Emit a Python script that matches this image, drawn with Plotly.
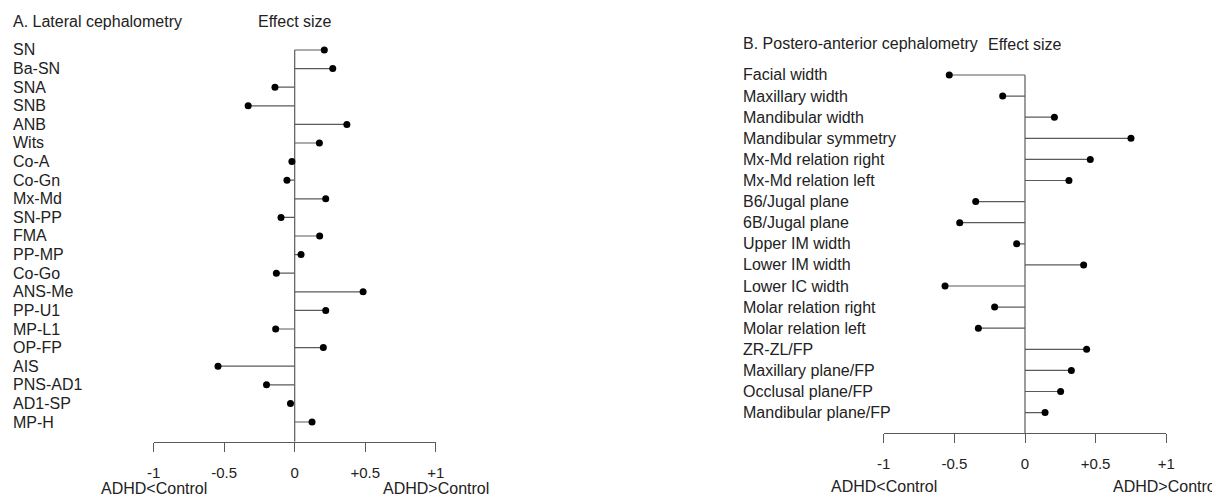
import plotly.graph_objects as go

W, H = 1220, 496
OFF = 8  # page body margin offset

# ---------------- data ----------------
lat_labels = ["SN", "Ba-SN", "SNA", "SNB", "ANB", "Wits", "Co-A", "Co-Gn", "Mx-Md", "SN-PP",
              "FMA", "PP-MP", "Co-Go", "ANS-Me", "PP-U1", "MP-L1", "OP-FP", "AIS", "PNS-AD1",
              "AD1-SP", "MP-H"]
lat_values = [0.21, 0.27, -0.14, -0.33, 0.37, 0.175, -0.02, -0.055, 0.22, -0.097,
              0.177, 0.045, -0.13, 0.485, 0.22, -0.135, 0.203, -0.544, -0.20,
              -0.03, 0.123]

pa_labels = ["Facial width", "Maxillary width", "Mandibular width", "Mandibular symmetry",
             "Mx-Md relation right", "Mx-Md relation left", "B6/Jugal plane", "6B/Jugal plane",
             "Upper IM width", "Lower IM width", "Lower IC width", "Molar relation right",
             "Molar relation left", "ZR-ZL/FP", "Maxillary plane/FP", "Occlusal plane/FP",
             "Mandibular plane/FP"]
pa_values = [-0.536, -0.158, 0.208, 0.75, 0.462, 0.311, -0.349, -0.462,
             -0.059, 0.415, -0.566, -0.215, -0.33, 0.436, 0.328, 0.252, 0.142]

tick_vals = [-1, -0.5, 0, 0.5, 1]
tick_text = ["-1", "-0.5", "0", "+0.5", "+1"]
panel_titles = ["A. Lateral cephalometry", "B. Postero-anterior cephalometry"]
axis_title = "Effect size"
side_labels = ["ADHD<Control", "ADHD>Control"]

# ---------------- style ----------------
FONT = "Liberation Sans, Arial, sans-serif"
TXT = "#222222"
LINE = "#5a5a5a"
FS = 16
TFS = 15


def px_x(p):
    return (p - OFF) / W


def px_y(p):
    return 1 - (p - OFF) / H


fig = go.Figure()

panels = [
    dict(labels=lat_labels, values=lat_values, xa="x", ya="y",
         xdom=(153.7, 435.7), row0=50.0, step=18.6, axis_px=441.7, top_px=30,
         label_px=11, title_px=(11, 21), es_y=22, side_y=488),
    dict(labels=pa_labels, values=pa_values, xa="x2", ya="y2",
         xdom=(883.7, 1166.3), row0=75.0, step=21.1, axis_px=433.3, top_px=55,
         label_px=741, title_px=(741, 43), es_y=44, side_y=486),
]

annotations = []
for k, p in enumerate(panels):
    n = len(p["labels"])
    idx = list(range(n))
    bottom = (p["axis_px"] - p["row0"]) / p["step"]
    top = (p["top_px"] - p["row0"]) / p["step"]

    # stems
    sx, sy = [], []
    for i, v in zip(idx, p["values"]):
        sx += [0, v, None]
        sy += [i, i, None]
    fig.add_trace(go.Scatter(x=sx, y=sy, mode="lines", line=dict(color=LINE, width=1.2),
                             xaxis=p["xa"], yaxis=p["ya"], hoverinfo="skip", showlegend=False))
    # zero reference line
    fig.add_trace(go.Scatter(x=[0, 0], y=[0, bottom], mode="lines",
                             line=dict(color=LINE, width=1.2),
                             xaxis=p["xa"], yaxis=p["ya"], hoverinfo="skip", showlegend=False))
    # dots
    fig.add_trace(go.Scatter(x=p["values"], y=idx, mode="markers",
                             marker=dict(color="black", size=7),
                             text=p["labels"], xaxis=p["xa"], yaxis=p["ya"], showlegend=False))

    suffix = "" if k == 0 else "2"
    fig.update_layout(**{
        "xaxis" + suffix: dict(
            domain=[px_x(p["xdom"][0]), px_x(p["xdom"][1])], range=[-1, 1],
            anchor=p["ya"], tickvals=tick_vals, ticktext=tick_text,
            ticks="outside", ticklen=9, tickwidth=1.2, tickcolor=LINE,
            showline=True, linecolor=LINE, linewidth=1.2, automargin=False,
            showgrid=False, zeroline=False, fixedrange=True,
            tickfont=dict(family=FONT, size=TFS, color=TXT), ticklabelstandoff=8),
        "yaxis" + suffix: dict(
            domain=[px_y(p["axis_px"]), px_y(p["top_px"])], range=[bottom, top],
            anchor=p["xa"], visible=False, showgrid=False, zeroline=False,
            automargin=False, fixedrange=True),
    })

    for i, lab in zip(idx, p["labels"]):
        annotations.append(dict(text=lab, x=px_x(p["label_px"]), xref="paper", xanchor="left",
                                y=i, yref=p["ya"], yanchor="middle", showarrow=False,
                                font=dict(family=FONT, size=FS, color=TXT)))
    annotations.append(dict(text=panel_titles[k], x=px_x(p["title_px"][0]), xref="paper",
                            xanchor="left", y=px_y(p["title_px"][1]), yref="paper",
                            yanchor="middle", showarrow=False,
                            font=dict(family=FONT, size=FS, color=TXT)))
    annotations.append(dict(text=axis_title, x=0, xref=p["xa"], xanchor="center",
                            y=px_y(p["es_y"]), yref="paper", yanchor="middle", showarrow=False,
                            font=dict(family=FONT, size=FS, color=TXT)))
    for xv, lab in zip([-1, 1], side_labels):
        annotations.append(dict(text=lab, x=xv, xref=p["xa"], xanchor="center",
                                y=px_y(p["side_y"]), yref="paper", yanchor="middle",
                                showarrow=False, font=dict(family=FONT, size=FS, color=TXT)))

fig.update_layout(width=W, height=H, margin=dict(l=0, r=0, t=0, b=0, autoexpand=False),
                  paper_bgcolor="white", plot_bgcolor="white",
                  annotations=annotations, showlegend=False)

fig.write_html("out.html")
